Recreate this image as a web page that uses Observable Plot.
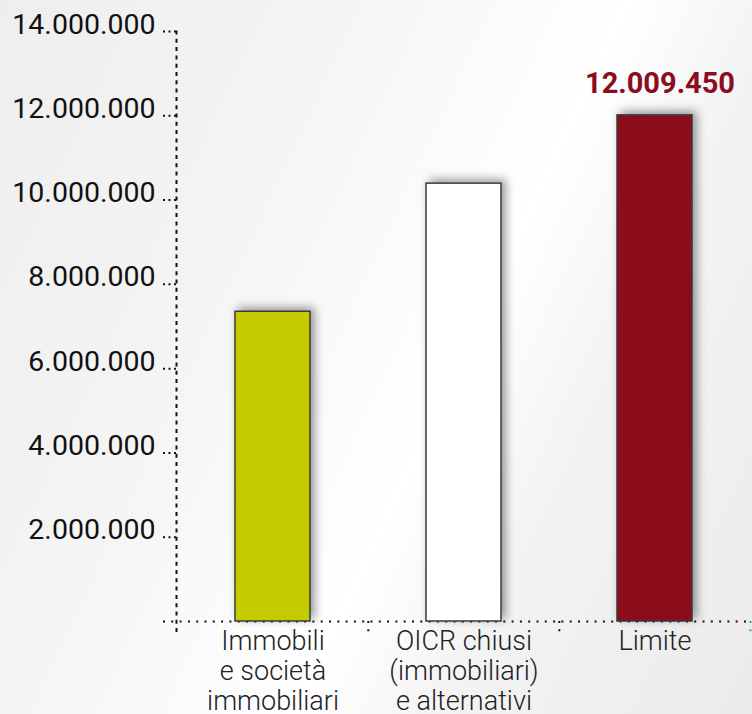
<!DOCTYPE html>
<html>
<head>
<meta charset="utf-8">
<script src="https://cdn.jsdelivr.net/npm/d3@7"></script>
<script src="https://cdn.jsdelivr.net/npm/@observablehq/plot@0.6"></script>
<style>
  html, body { margin: 0; padding: 0; }
  body {
    width: 752px; height: 714px; overflow: hidden;
    background: linear-gradient(115deg, #eeeeee 0%, #f4f4f4 30%, #fbfbfb 48%, #ffffff 58%, #f3f3f3 72%, #ebebeb 100%);
    font-family: Roboto, sans-serif;
  }
</style>
</head>
<body>
<div id="chart"></div>
<script>
const categories = ["Immobili\ne società\nimmobiliari", "OICR chiusi\n(immobiliari)\ne alternativi", "Limite"];
const values = [7350000, 10390000, 12009450];
const colors = ["#c4cc00", "#ffffff", "#8b0d1f"];
const yTicks = [2000000, 4000000, 6000000, 8000000, 10000000, 12000000, 14000000];
const highlighted = ["Limite"];

const data = categories.map((c, i) => ({cat: c, value: values[i], color: colors[i]}));
const fmt = d => d3.format(",")(d).replace(/,/g, ".");
const dots = {strokeDasharray: "2 6.3", strokeWidth: 2, stroke: "#111"};

const chart = Plot.plot({
  width: 752,
  height: 714,
  marginLeft: 176,
  marginRight: 2,
  marginTop: 31,
  marginBottom: 81,
  insetBottom: 12,
  style: {background: "transparent", fontFamily: "Roboto, sans-serif", color: "#111"},
  x: {domain: categories, padding: 0, label: null},
  y: {domain: [0, 14000000], label: null},
  color: {type: "identity"},
  marks: [
    Plot.frame({anchor: "left", ...dots}),
    Plot.ruleY([0], {insetLeft: -13, insetRight: -2, ...dots}),
    Plot.ruleX(categories.slice(1), {x: d => d, dx: -95.7, y1: 0, y2: 0, insetBottom: -14, ...dots}),
    Plot.ruleX(categories.slice(-1), {x: d => d, dx: 95.5, y1: 0, y2: 0, insetBottom: -14, ...dots, stroke: "#2aa6c9"}),
    Plot.axisY({ticks: yTicks, tickSize: 14, label: null, tickFormat: () => "", strokeDasharray: "2 3.5", strokeWidth: 2, stroke: "#111"}),
    Plot.axisY({ticks: yTicks, tickSize: 0, label: null, tickPadding: 21, dy: -7, fontSize: 28.5, fontWeight: 400, tickFormat: fmt, fill: "#111"}),
    Plot.axisX({tickSize: 0, label: null, tickPadding: -5, fontSize: 27, fontWeight: 300, lineHeight: 1.11, fill: "#222", tickFormat: d => d}),
    Plot.barY(data, {x: "cat", y: "value", fill: "color", stroke: "#3a3a3a", strokeWidth: 1.5, insetLeft: 58, insetRight: 58}),
    Plot.text(data.filter(d => highlighted.includes(d.cat)), {x: "cat", y: "value", text: d => fmt(d.value), dy: -32, dx: 5, lineAnchor: "middle", fill: "#8b0d1f", fontWeight: "bold", fontSize: 29})
  ]
});

const svg = d3.select(chart);
const defs = svg.insert("defs", ":first-child");
const f = defs.append("filter").attr("id", "barShadow").attr("x", "-40%").attr("y", "-15%").attr("width", "180%").attr("height", "130%");
f.append("feDropShadow").attr("dx", 4).attr("dy", -3).attr("stdDeviation", 5).attr("flood-color", "#000").attr("flood-opacity", 0.4);
svg.selectAll("g[aria-label=bar] rect").attr("filter", "url(#barShadow)");

document.getElementById("chart").appendChild(chart);
</script>
</body>
</html>
